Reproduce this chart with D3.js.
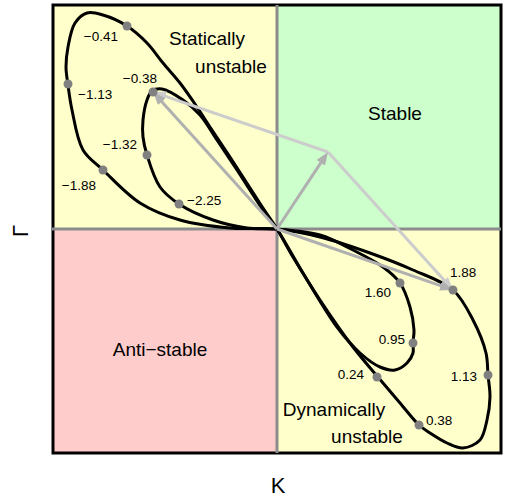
<!DOCTYPE html>
<html lang="en">
<head>
<meta charset="UTF-8"/>
<title>Stability regions in the K - Gamma plane</title>
<script src="https://d3js.org/d3.v7.min.js"></script>
<style>
    body { margin: 0; background: #fff; }
    text { font-family: "Liberation Sans", Arial, sans-serif; }
</style>
</head>
<body>
<div id="chart"></div>
<script>
    // Outer loop, [K, Gamma] in order, passes the origin twice
    var outerLoop = [
        [0, 0], [0.43, -0.08], [0.93, -0.24], [1.36, -0.41], [1.76, -0.61],
        [1.96, -0.91], [2.09, -1.24], [2.11, -1.46], [2.13, -1.68], [2.10, -1.91],
        [2.03, -2.11], [1.86, -2.19], [1.70, -2.14], [1.53, -2.04], [1.42, -1.96],
        [1.23, -1.74], [1.06, -1.54], [0.76, -1.18], [0.43, -0.71], [0.16, -0.28],
        [0, 0], [-0.14, 0.21], [-0.47, 0.72], [-0.67, 1.02], [-0.80, 1.22],
        [-0.97, 1.46], [-1.14, 1.66], [-1.30, 1.86], [-1.50, 2.03], [-1.74, 2.14],
        [-1.90, 2.16], [-2.02, 2.06], [-2.09, 1.82], [-2.11, 1.62], [-2.09, 1.44],
        [-2.05, 1.19], [-1.94, 0.79], [-1.74, 0.59], [-1.37, 0.26], [-0.97, 0.09],
        [-0.47, 0.01]
    ];

    // Inner loop
    var innerLoop = [
        [0, 0], [0.43, -0.06], [0.76, -0.21], [1.06, -0.38], [1.23, -0.54],
        [1.33, -0.78], [1.37, -1.01], [1.36, -1.14], [1.36, -1.24], [1.30, -1.34],
        [1.18, -1.41], [1.03, -1.38], [0.83, -1.24], [0.60, -0.98], [0.26, -0.44],
        [0, 0], [-0.14, 0.19], [-0.40, 0.59], [-0.60, 0.89], [-0.77, 1.14],
        [-0.94, 1.29], [-1.15, 1.40], [-1.25, 1.38], [-1.30, 1.29], [-1.34, 1.09],
        [-1.34, 0.92], [-1.30, 0.74], [-1.17, 0.42], [-0.98, 0.25], [-0.64, 0.09],
        [-0.30, 0.01]
    ];

    // Marked points on the loops and their labels
    var markK = [-1.50, -2.09, -1.74, -1.24, -1.30, -0.98, 1.76, 2.11, 1.42, 1.23, 1.36, 1.00];
    var markG = [2.03, 1.45, 0.59, 1.37, 0.74, 0.25, -0.61, -1.46, -1.96, -0.54, -1.14, -1.48];
    var markLabels = ["\u22120.41", "\u22121.13", "\u22121.88", "\u22120.38", "\u22121.32", "\u22122.25",
                      "1.88", "1.13", "0.38", "1.60", "0.95", "0.24"];

    // Vectors: two loop points and their sum
    var vecA = [-1.24, 1.37];
    var vecB = [1.76, -0.61];
    var vecSum = [0.51, 0.77];

    var regionNames = ["Statically", "unstable", "Stable", "Anti\u2212stable", "Dynamically", "unstable"];
    var regionK = [-0.70, -0.46, 1.18, -1.17, 0.57, 0.90];
    var regionG = [1.84, 1.56, 1.09, -1.27, -1.87, -2.14];

    var width = 505;
    var height = 498;
    var plotLeft = 53, plotRight = 501, plotTop = 5, plotBottom = 453;

    var svg = d3.select("#chart")
        .append("svg")
        .attr("width", width)
        .attr("height", height);

    var xScale = d3.scaleLinear().domain([-2.24, 2.24]).range([plotLeft, plotRight]);
    var yScale = d3.scaleLinear().domain([-2.24, 2.24]).range([plotBottom, plotTop]);

    // Quadrant backgrounds
    var quads = [
        { k: [-2.24, 0], g: [0, 2.24], fill: "#ffffcc" },
        { k: [0, 2.24], g: [0, 2.24], fill: "#ccffcc" },
        { k: [-2.24, 0], g: [-2.24, 0], fill: "#ffcccc" },
        { k: [0, 2.24], g: [-2.24, 0], fill: "#ffffcc" }
    ];
    svg.selectAll("rect.quad")
        .data(quads)
        .enter()
        .append("rect")
        .attr("class", "quad")
        .attr("x", function(d) { return xScale(d.k[0]); })
        .attr("y", function(d) { return yScale(d.g[1]); })
        .attr("width", function(d) { return xScale(d.k[1]) - xScale(d.k[0]); })
        .attr("height", function(d) { return yScale(d.g[0]) - yScale(d.g[1]); })
        .attr("fill", function(d) { return d.fill; });

    // Frame
    svg.append("rect")
        .attr("x", plotLeft)
        .attr("y", plotTop)
        .attr("width", plotRight - plotLeft)
        .attr("height", plotBottom - plotTop)
        .attr("fill", "none")
        .attr("stroke", "#000")
        .attr("stroke-width", 3);

    // Axes through the origin
    svg.append("line")
        .attr("x1", plotLeft - 1).attr("x2", plotRight)
        .attr("y1", yScale(0)).attr("y2", yScale(0))
        .attr("stroke", "#8c8c8c").attr("stroke-width", 3);
    svg.append("line")
        .attr("x1", xScale(0)).attr("x2", xScale(0))
        .attr("y1", plotTop).attr("y2", plotBottom)
        .attr("stroke", "#8c8c8c").attr("stroke-width", 3);

    // Loops
    var loopLine = d3.line()
        .x(function(d) { return xScale(d[0]); })
        .y(function(d) { return yScale(d[1]); })
        .curve(d3.curveCatmullRomClosed.alpha(0.5));

    svg.selectAll("path.loop")
        .data([outerLoop, innerLoop])
        .enter()
        .append("path")
        .attr("class", "loop")
        .attr("d", loopLine)
        .attr("fill", "none")
        .attr("stroke", "#000")
        .attr("stroke-width", 3)
        .attr("stroke-linejoin", "round");

    // Arrow heads
    var defs = svg.append("defs");
    [["headDark", "#b0b0b0"], ["headLight", "#cccccc"]].forEach(function(m) {
        defs.append("marker")
            .attr("id", m[0])
            .attr("viewBox", "0 0 13 10")
            .attr("refX", 5)
            .attr("refY", 5)
            .attr("markerWidth", 13)
            .attr("markerHeight", 10)
            .attr("markerUnits", "userSpaceOnUse")
            .attr("orient", "auto")
            .append("path")
            .attr("d", "M0,0 L13,5 L0,10 Z")
            .attr("fill", m[1]);
    });

    var arrows = [
        { from: vecSum, to: vecA, color: "#cccccc", head: "headLight" },
        { from: vecSum, to: vecB, color: "#cccccc", head: "headLight" },
        { from: [0, 0], to: vecA, color: "#b0b0b0", head: "headDark" },
        { from: [0, 0], to: vecB, color: "#b0b0b0", head: "headDark" },
        { from: [0, 0], to: vecSum, color: "#b0b0b0", head: "headDark" }
    ];

    function shortEnd(d, axis) {
        var dx = xScale(d.to[0]) - xScale(d.from[0]), dy = yScale(d.to[1]) - yScale(d.from[1]);
        var len = Math.sqrt(dx * dx + dy * dy);
        return axis === "x" ? xScale(d.to[0]) - dx / len * 8 : yScale(d.to[1]) - dy / len * 8;
    }

    svg.selectAll("line.arrow")
        .data(arrows)
        .enter()
        .append("line")
        .attr("class", "arrow")
        .attr("x1", function(d) { return xScale(d.from[0]); })
        .attr("y1", function(d) { return yScale(d.from[1]); })
        .attr("x2", function(d) { return shortEnd(d, "x"); })
        .attr("y2", function(d) { return shortEnd(d, "y"); })
        .attr("stroke", function(d) { return d.color; })
        .attr("stroke-width", 3)
        .attr("marker-end", function(d) { return "url(#" + d.head + ")"; });

    // Marked points
    svg.selectAll("circle.mark")
        .data(markK)
        .enter()
        .append("circle")
        .attr("class", "mark")
        .attr("cx", function(d) { return xScale(d); })
        .attr("cy", function(d, i) { return yScale(markG[i]); })
        .attr("r", 4.5)
        .attr("fill", "#808080");

    // label placement relative to the point: [dx, dy, anchor]
    var labelPlace = [
        [-9, 15, "end"], [10, 15, "start"], [-7, 20, "end"], [4, -9, "end"], [-10, -6, "end"], [8, 1, "start"],
        [-3, -13, "start"], [-11, 6, "end"], [7, 0, "start"], [-9, 14, "end"], [-8, 1, "end"], [-13, 2, "end"]
    ];

    svg.selectAll("text.mark")
        .data(markLabels)
        .enter()
        .append("text")
        .attr("class", "mark")
        .attr("x", function(d, i) { return xScale(markK[i]) + labelPlace[i][0]; })
        .attr("y", function(d, i) { return yScale(markG[i]) + labelPlace[i][1]; })
        .attr("text-anchor", function(d, i) { return labelPlace[i][2]; })
        .attr("font-size", "13.5px")
        .attr("fill", "#000")
        .text(function(d) { return d; });

    // Region names
    svg.selectAll("text.region")
        .data(regionNames)
        .enter()
        .append("text")
        .attr("class", "region")
        .attr("x", function(d, i) { return xScale(regionK[i]); })
        .attr("y", function(d, i) { return yScale(regionG[i]); })
        .attr("text-anchor", "middle")
        .attr("font-size", "19px")
        .attr("fill", "#000")
        .text(function(d) { return d; });

    // Axis titles
    svg.append("text")
        .attr("x", (plotLeft + plotRight) / 2 + 1)
        .attr("y", 493)
        .attr("text-anchor", "middle")
        .attr("font-size", "22px")
        .text("K");

    svg.append("text")
        .attr("transform", "translate(28," + 231 + ")rotate(-90)")
        .attr("text-anchor", "middle")
        .attr("font-size", "22px")
        .text("\u0393");
</script>
</body>
</html>
